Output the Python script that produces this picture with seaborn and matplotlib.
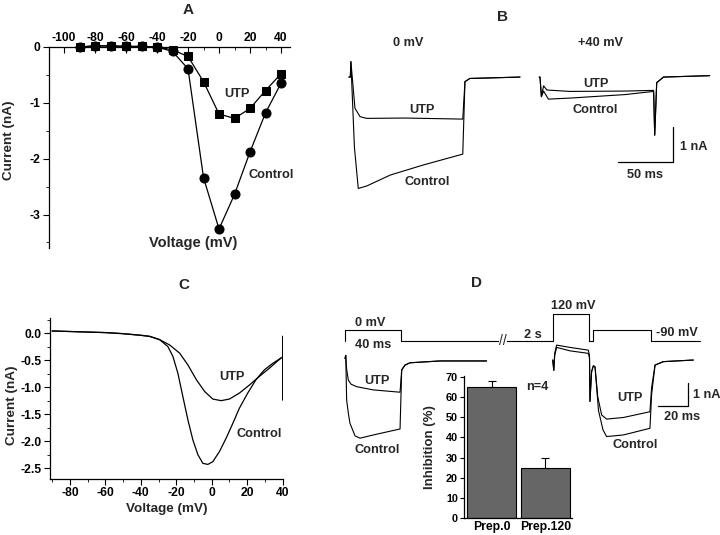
import numpy as np
import pandas as pd
import matplotlib
matplotlib.use("Agg")
import matplotlib.pyplot as plt
import seaborn as sns

# ---------------- data ----------------
# Panel A: I-V relation (peak current, nA)
a_voltage = [-90, -80, -70, -60, -50, -40, -30, -20, -10, 0, 10, 20, 30, 40]
a_control = [0.0, 0.02, 0.02, 0.01, 0.01, 0.0, -0.08, -0.39, -2.34, -3.26, -2.64, -1.88, -1.18, -0.65]
a_utp = [0.0, 0.02, 0.02, 0.01, 0.01, 0.0, -0.05, -0.17, -0.62, -1.20, -1.28, -1.10, -0.78, -0.48]

# Panel B: current traces (time ms, current nA)
b0_utp_t = [-1, 0.3, 0.8, 4.5, 9.1, 15.2, 50, 102.5, 104.5, 109, 154.5]
b0_utp_i = [0.0, 0.0, 0.44, -0.89, -1.13, -1.18, -1.17, -1.20, -0.13, -0.04, 0.0]
b0_ctl_t = [-1, 0.3, 0.8, 4.0, 7.5, 15.2, 36.4, 66.6, 102.5, 104.5, 109, 154.5]
b0_ctl_i = [0.0, 0.0, 0.44, -2.0, -3.18, -3.11, -2.80, -2.51, -2.20, -0.13, -0.04, 0.0]
b40_utp_t = [172, 172.7, 174.0, 176.0, 179.0, 200, 250, 276.0, 277.0, 278.8, 285, 327]
b40_utp_i = [0.0, 0.0, -0.56, -0.25, -0.37, -0.41, -0.40, -0.38, -1.66, -0.16, 0.0, 0.04]
b40_ctl_t = [172, 172.7, 174.0, 176.0, 180.3, 200, 250, 276.0, 277.0, 278.8, 285, 327]
b40_ctl_i = [0.0, 0.0, -0.56, -0.40, -0.63, -0.60, -0.50, -0.41, -1.66, -0.16, 0.0, 0.04]

# Panel C: ramp I-V (voltage mV, current nA)
c_ctl_v = [-90, -80, -60, -50, -40, -35, -29.4, -24.7, -21.9, -19.1, -16.3, -13.4, -10.6, -7.8,
           -5.0, -2.2, 0.6, 4.4, 8.2, 11.9, 15.6, 20.3, 25.0, 29.7, 34.4, 39.1, 40.0, 40.0, 40.0]
c_ctl_i = [0.04, 0.03, 0.01, -0.01, -0.04, -0.06, -0.12, -0.25, -0.43, -0.74, -1.17, -1.61, -1.98, -2.25,
           -2.41, -2.43, -2.38, -2.19, -1.94, -1.67, -1.39, -1.11, -0.86, -0.68, -0.56, -0.46, -0.44, -0.06, -1.24]
c_utp_v = [-90, -80, -60, -50, -40, -35, -29.4, -23.7, -18.1, -13.4, -8.7, -4.0, 0.6, 5.3,
           10.0, 15.6, 21.3, 26.9, 32.5, 39.1]
c_utp_i = [0.04, 0.03, 0.01, -0.01, -0.04, -0.06, -0.12, -0.22, -0.37, -0.59, -0.86, -1.08, -1.22, -1.25,
           -1.22, -1.11, -0.96, -0.80, -0.65, -0.46]

# Panel D: traces (time ms, current nA) and voltage protocol (mV)
d_left_utp_t = [0, 0.5, 1.1, 2.2, 4.0, 7.8, 18.9, 36.7, 37.8, 40.0, 43.3, 63.3, 94.4]
d_left_utp_i = [0.07, 0.2, -0.4, -0.87, -1.05, -1.16, -1.30, -1.40, -0.43, -0.22, -0.12, -0.04, -0.04]
d_left_ctl_t = [0, 0.5, 1.1, 2.2, 3.3, 6.7, 10.0, 18.9, 36.7, 37.8, 40.0, 43.3, 63.3, 94.4]
d_left_ctl_i = [0.07, 0.2, -1.74, -2.3, -2.75, -3.30, -3.40, -3.26, -3.00, -0.43, -0.22, -0.12, -0.04, -0.04]
d_right_utp_t = [138.5, 139.2, 139.8, 141.1, 150, 162.2, 163.0, 163.3, 164.4, 165.6, 166.7, 168.5,
                 171.1, 174.4, 185.6, 203.3, 204.4, 206.7, 212.2, 232.2]
d_right_utp_i = [0.0, -0.45, 0.3, 0.65, 0.55, 0.43, 0.2, -1.8, -0.5, -0.25, -0.3, -1.6,
                 -2.39, -2.57, -2.50, -2.25, -1.2, -0.22, -0.07, 0.0]
d_right_ctl_t = [138.5, 139.2, 139.8, 141.1, 150, 162.2, 163.0, 163.3, 164.4, 165.6, 166.7, 169.0,
                 172.0, 174.4, 185.6, 203.3, 204.4, 206.7, 212.2, 232.2]
d_right_ctl_i = [0.0, -0.45, 0.2, 0.55, 0.4, 0.29, 0.1, -1.8, -0.5, -0.25, -0.3, -2.2,
                 -3.04, -3.33, -3.26, -2.97, -1.5, -0.22, -0.07, 0.0]
d_proto_t = [0, 0, 37.3, 37.3, 138.9, 138.9, 162.9, 162.9, 165.5, 165.5, 204, 204, 236.7]
d_proto_v = [-90, 0, 0, -90, -90, 120, 120, -90, -90, 0, 0, -90, -90]

# Panel D inset: inhibition (%)
inh_categories = ["Prep.0", "Prep.120"]
inh_values = [65, 25]
inh_errors = [3, 5]

# ---------------- style ----------------
sns.set_theme(style="ticks")
plt.rcParams['font.family'] = ['Liberation Sans', 'DejaVu Sans']
plt.rcParams['font.weight'] = 'bold'
plt.rcParams['axes.labelweight'] = 'bold'
plt.rcParams['axes.unicode_minus'] = False

W, H = 720, 535
fig = plt.figure(figsize=(7.2, 5.35), dpi=100)
fig.patch.set_facecolor('white')


def box(l, t, r, b):
    return [l / W, 1 - b / H, (r - l) / W, (b - t) / H]


def ftxt(x, y, s, size=9, ha='center', va='center', rot=0):
    fig.text(x / W, 1 - y / H, s, fontsize=size, ha=ha, va=va, fontweight='bold', rotation=rot)


def trace(ax, x, y, lw=0.8, **kw):
    sns.lineplot(x=x, y=y, ax=ax, color='black', linewidth=lw, estimator=None, sort=False, **kw)


def bare(ax):
    ax.axis('off')
    ax.patch.set_visible(False)


TICK = 8.7
LAB = 9.7
ANN = 9.2
LET = 11

# ---------------- Panel A ----------------
axA = fig.add_axes(box(49, 47, 290, 248))
sns.lineplot(x=a_voltage, y=a_utp, ax=axA, color='black', marker='s', markersize=6,
             markeredgecolor='black', linewidth=0.9, sort=False, estimator=None, clip_on=False)
sns.lineplot(x=a_voltage, y=a_control, ax=axA, color='black', marker='o', markersize=6.5,
             markeredgecolor='black', linewidth=0.9, sort=False, estimator=None, clip_on=False)
axA.set_xlim(-109.7, 45.8)
axA.set_ylim(-3.6, 0.0)
axA.xaxis.tick_top()
axA.set_xticks(range(-100, 41, 20))
axA.set_xticks(range(-100, 41, 10), minor=True)
axA.set_yticks([0, -1, -2, -3])
axA.set_yticklabels(['0', '-1', '-2', '-3'])
axA.set_yticks(np.arange(-3.5, 0.01, 0.5), minor=True)
for s in ['bottom', 'right']:
    axA.spines[s].set_visible(False)
for s in ['top', 'left']:
    axA.spines[s].set_linewidth(0.9)
    axA.spines[s].set_color('black')
axA.tick_params(axis='x', which='major', direction='in', length=4, width=0.8, labelsize=TICK, pad=2, colors='black')
axA.tick_params(axis='x', which='minor', direction='in', length=2, width=0.6, colors='black')
axA.tick_params(axis='y', which='major', direction='out', length=4, width=0.8, labelsize=TICK, pad=2, colors='black')
axA.tick_params(axis='y', which='minor', direction='out', length=2, width=0.6, colors='black')
axA.set_xlabel('')
axA.set_ylabel('')
ftxt(188, 10, 'A', LET)
ftxt(9, 140, 'Current (nA)', LAB, rot=90)
ftxt(193, 243, 'Voltage (mV)', 10.5)
ftxt(237, 94, 'UTP', ANN)
ftxt(271, 175, 'Control', ANN)

# ---------------- Panel B ----------------
axB = fig.add_axes(box(340, 55, 715, 200))
trace(axB, b0_utp_t, b0_utp_i)
trace(axB, b0_ctl_t, b0_ctl_i)
trace(axB, b40_utp_t, b40_utp_i)
trace(axB, b40_ctl_t, b40_ctl_i)
axB.plot([243.9, 293.9, 293.9], [-2.42, -2.42, -1.42], color='black', linewidth=0.9)
axB.set_xlim(-9.1, 331.8)
axB.set_ylim(-3.51, 0.63)
bare(axB)
ftxt(503, 17, 'B', LET)
ftxt(408, 43, '0 mV', ANN)
ftxt(600, 43, '+40 mV', ANN)
ftxt(422, 110, 'UTP', ANN)
ftxt(427, 182, 'Control', ANN)
ftxt(596, 84, 'UTP', ANN)
ftxt(595, 110, 'Control', ANN)
ftxt(680, 147, '1 nA', ANN, ha='left')
ftxt(645, 175, '50 ms', ANN)

# ---------------- Panel C ----------------
axC = fig.add_axes(box(50, 318, 283, 479))
trace(axC, c_utp_v, c_utp_i, lw=0.9)
trace(axC, c_ctl_v, c_ctl_i, lw=0.9)
axC.set_xlim(-91.2, 40.2)
axC.set_ylim(-2.7, 0.28)
axC.set_xticks(range(-80, 41, 20))
axC.set_xticks(range(-90, 41, 10), minor=True)
axC.set_yticks([0.0, -0.5, -1.0, -1.5, -2.0, -2.5])
axC.set_yticklabels(['0.0', '-0.5', '-1.0', '-1.5', '-2.0', '-2.5'])
axC.set_yticks(np.arange(-2.5, 0.26, 0.25), minor=True)
for s in ['top', 'right']:
    axC.spines[s].set_visible(False)
for s in ['bottom', 'left']:
    axC.spines[s].set_linewidth(0.9)
    axC.spines[s].set_color('black')
axC.tick_params(which='major', direction='out', length=4, width=0.8, labelsize=TICK, pad=2, colors='black')
axC.tick_params(which='minor', direction='out', length=2, width=0.6, colors='black')
axC.set_xlabel('')
axC.set_ylabel('')
ftxt(184, 285, 'C', LET)
ftxt(12, 405, 'Current (nA)', LAB, rot=90)
ftxt(167, 509, 'Voltage (mV)', LAB)
ftxt(232, 377, 'UTP', ANN)
ftxt(259, 434, 'Control', ANN)

# ---------------- Panel D ----------------
axD = fig.add_axes(box(340, 295, 720, 460))
trace(axD, d_left_utp_t, d_left_utp_i)
trace(axD, d_left_ctl_t, d_left_ctl_i)
trace(axD, d_right_utp_t, d_right_utp_i)
trace(axD, d_right_ctl_t, d_right_ctl_i)
axD.plot([208.7, 228.7, 228.7], [-2.0, -2.0, -1.0], color='black', linewidth=0.9)
axD.set_xlim(-3.33, 250)
axD.set_ylim(-4.35, 2.83)
bare(axD)

axP = fig.add_axes(box(340, 295, 720, 460))
trace(axP, d_proto_t, d_proto_v, lw=0.8)
axP.set_xlim(-3.33, 250)
axP.set_ylim(-1002, 267)
axP.text(105.3, -90, '//', fontsize=10, ha='center', va='center', fontweight='normal',
         bbox=dict(facecolor='white', edgecolor='none', pad=0.2))
bare(axP)

ftxt(476, 283, 'D', LET)
ftxt(370, 323, '0 mV', ANN)
ftxt(373, 345, '40 ms', ANN)
ftxt(533, 335, '2 s', ANN)
ftxt(573, 306, '120 mV', ANN)
ftxt(677, 333, '-90 mV', ANN)
ftxt(377, 381, 'UTP', ANN)
ftxt(377, 450, 'Control', ANN)
ftxt(630, 398, 'UTP', ANN)
ftxt(635, 445, 'Control', ANN)
ftxt(693, 395, '1 nA', ANN, ha='left')
ftxt(682, 417, '20 ms', ANN)

# inset bar chart
axI = fig.add_axes(box(464, 376, 572, 518))
sns.barplot(x=inh_categories, y=inh_values, ax=axI, color='#666666', saturation=1,
            edgecolor='black', linewidth=0.8, width=0.92, errorbar=None)
axI.errorbar(x=[0, 1], y=inh_values, yerr=[[0, 0], inh_errors], fmt='none', ecolor='black',
             elinewidth=0.8, capsize=3, capthick=0.8)
axI.set_xlim(-0.52, 1.5)
axI.set_ylim(0, 70.5)
axI.set_yticks(range(0, 71, 10))
for s in ['top', 'right']:
    axI.spines[s].set_visible(False)
for s in ['bottom', 'left']:
    axI.spines[s].set_linewidth(0.9)
    axI.spines[s].set_color('black')
axI.tick_params(axis='y', direction='out', length=3, width=0.8, labelsize=7.8, pad=1.5, colors='black')
axI.tick_params(axis='x', length=0, labelsize=8.8, pad=2, colors='black')
axI.set_xlabel('')
axI.set_ylabel('')
ftxt(430, 447, 'Inhibition (%)', 9.5, rot=90)
ftxt(537, 387, 'n=4', ANN)

fig.savefig('out.png', dpi=100, facecolor='white')
